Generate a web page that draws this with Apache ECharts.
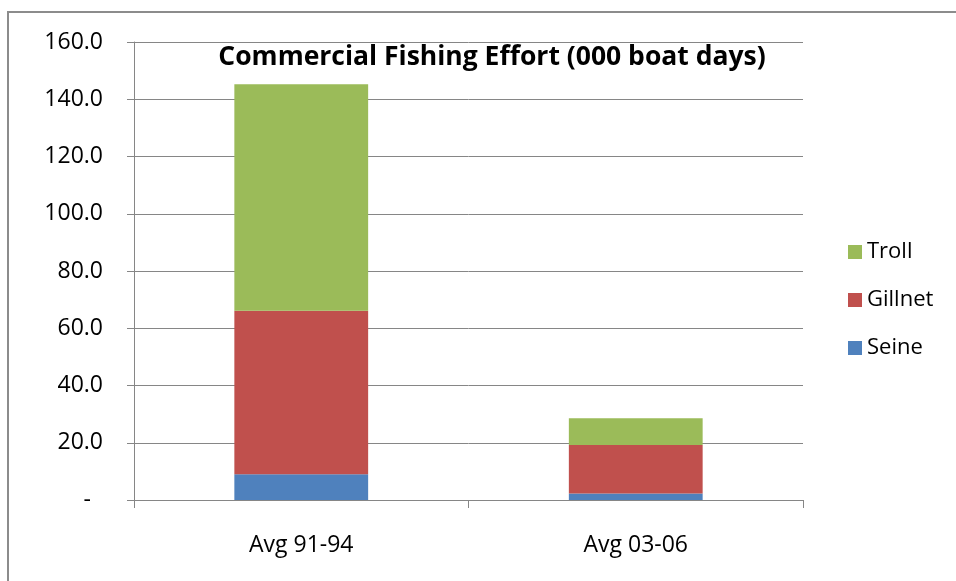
<!DOCTYPE html>
<html>
<head>
<meta charset="utf-8">
<script src="https://cdn.jsdelivr.net/npm/echarts@6/dist/echarts.min.js"></script>
<style>
  html, body { margin: 0; padding: 0; background: #fff; }
  #chart { width: 956px; height: 581px; }
</style>
</head>
<body>
<div id="chart"></div>
<script>
const categories = ["Avg 91-94", "Avg 03-06"];
const seine = [9.0, 2.3];
const gillnet = [57.1, 16.9];
const troll = [79.1, 9.4];
const yTicks = [0, 20, 40, 60, 80, 100, 120, 140, 160];

const font = "'Open Sans', Lato, sans-serif";
const gray = "#868686";

var myChart = echarts.init(document.getElementById("chart"));
myChart.setOption({
  animation: false,
  textStyle: { fontFamily: font, color: "#000" },
  title: {
    text: "Commercial Fishing Effort (000 boat days)",
    left: 487,
    textAlign: "center",
    top: 39,
    textStyle: { fontSize: 26.5, fontWeight: "bold", color: "#000", fontFamily: font },
  },
  graphic: [
    {
      type: "rect",
      shape: { x: 8, y: 12, width: 1000, height: 700 },
      style: { fill: "none", stroke: "#8c8c8c", lineWidth: 2 },
      silent: true,
    },
  ],
  legend: {
    data: ["Troll", "Gillnet", "Seine"],
    orient: "vertical",
    left: 843,
    top: 236,
    icon: "rect",
    itemWidth: 14,
    itemHeight: 14,
    itemGap: 26,
    textStyle: { fontSize: 22, color: "#000", fontFamily: font },
  },
  grid: { left: 134, right: 153, top: 42, bottom: 81 },
  xAxis: {
    type: "category",
    data: categories,
    axisLine: { lineStyle: { color: gray, width: 1 } },
    axisTick: { show: true, length: 8, lineStyle: { color: gray } },
    axisLabel: { fontSize: 23, color: "#000", margin: 34, fontFamily: font },
  },
  yAxis: {
    type: "value",
    min: yTicks[0],
    max: yTicks[yTicks.length - 1],
    interval: yTicks[1] - yTicks[0],
    axisLine: { show: true, lineStyle: { color: gray, width: 1 } },
    axisTick: { show: true, length: 7, lineStyle: { color: gray } },
    splitLine: { lineStyle: { color: gray, width: 1 } },
    axisLabel: {
      fontSize: 23,
      color: "#000",
      margin: 31,
      fontFamily: font,
      formatter: (v) => (v === 0 ? "{z|-}" : v.toFixed(1)),
      rich: { z: { fontSize: 23, padding: [0, 12, 0, 0], fontFamily: font } },
    },
  },
  series: [
    { name: "Seine", type: "bar", stack: "t", data: seine, barWidth: "40%", itemStyle: { color: "#4f81bd" } },
    { name: "Gillnet", type: "bar", stack: "t", data: gillnet, itemStyle: { color: "#c0504d" } },
    { name: "Troll", type: "bar", stack: "t", data: troll, itemStyle: { color: "#9bbb59" } },
  ],
});
</script>
</body>
</html>
